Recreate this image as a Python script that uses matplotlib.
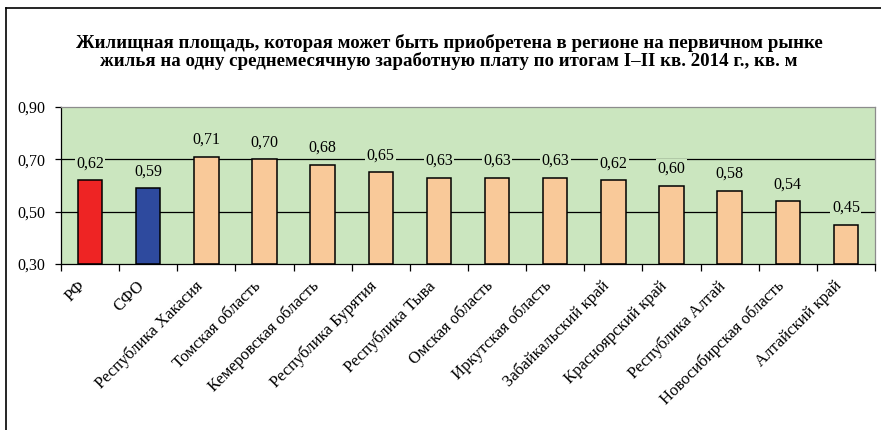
import matplotlib
matplotlib.use('Agg')
import matplotlib.pyplot as plt
import matplotlib.transforms as mtransforms
import numpy as np

regions = ['РФ', 'СФО', 'Республика Хакасия', 'Томская область', 'Кемеровская область',
           'Республика Бурятия', 'Республика Тыва', 'Омская область', 'Иркутская область',
           'Забайкальский край', 'Красноярский край', 'Республика Алтай',
           'Новосибирская область', 'Алтайский край']
values = [0.62, 0.59, 0.71, 0.70, 0.68, 0.65, 0.63, 0.63, 0.63, 0.62, 0.60, 0.58, 0.54, 0.45]
bar_colors = ['#ee2424', '#2e4a9e'] + ['#f9c999'] * 12
y_ticks = [0.30, 0.50, 0.70, 0.90]

title = ('Жилищная площадь, которая может быть приобретена в регионе на первичном рынке\n'
         'жилья на одну среднемесячную заработную плату по итогам I–II кв. 2014 г., кв. м')

plt.rcParams['font.family'] = ['Liberation Serif', 'DejaVu Serif']
plt.rcParams['hatch.linewidth'] = 0.4
plt.rcParams['hatch.color'] = '#b9d9aa'
bg = '#cbe6bf'

fig = plt.figure(figsize=(8.81, 4.30), dpi=100)
ax = fig.add_axes([61 / 881, 1 - 264 / 430, 814 / 881, 157 / 430])
ax.set_facecolor(bg)
# fine texture of the plot area
ax.add_patch(plt.Rectangle((0, 0), 1, 1, transform=ax.transAxes, facecolor='none',
                           edgecolor='none', hatch='+++++++', zorder=0))

x = np.arange(len(regions))
ax.set_xlim(-0.5, len(regions) - 0.5)
ax.set_ylim(0.3, 0.9)

for y in [0.5, 0.7]:
    ax.axhline(y, color='black', lw=0.9, zorder=1)

ax.bar(x, [v - 0.3 for v in values], bottom=0.3, width=0.42, color=bar_colors,
       edgecolor='black', lw=1.1, zorder=2)

for xi, v in zip(x, values):
    ax.text(xi, v + 0.034, f'{v:.2f}'.replace('.', ','), ha='center', va='bottom',
            fontsize=11.5, zorder=3,
            bbox=dict(facecolor=bg, edgecolor='none', pad=1.0))

ax.set_yticks(y_ticks)
ax.set_yticklabels([f'{t:.2f}'.replace('.', ',') for t in y_ticks], fontsize=11.5)
ax.tick_params(axis='y', direction='out', length=4, width=0.9, pad=7)

ax.set_xticks(np.arange(-0.5, len(regions)), minor=True)
ax.set_xticks(x)
ax.set_xticklabels(regions, rotation=45, ha='right', va='top', rotation_mode='anchor',
                   fontsize=12)
ax.tick_params(axis='x', which='major', length=0, pad=10)
ax.tick_params(axis='x', which='minor', direction='out', length=5, width=0.9)
shift = mtransforms.ScaledTranslation(-12 / 100, 0, fig.dpi_scale_trans)
for lbl in ax.get_xticklabels():
    lbl.set_transform(lbl.get_transform() + shift)

for side in ['top', 'right']:
    ax.spines[side].set_color('#8c8c8c')
    ax.spines[side].set_linewidth(0.9)
for side in ['left', 'bottom']:
    ax.spines[side].set_color('black')
    ax.spines[side].set_linewidth(0.9)

fig.text(449 / 881, 1 - 52 / 430, title, ha='center', va='center', fontsize=13.6,
         fontweight='bold', linespacing=1.05)

# outer frame (top and left edges visible in the source)
fig.add_artist(plt.Line2D([6 / 881, 1], [1 - 8 / 430, 1 - 8 / 430], color='black', lw=1.2,
                          transform=fig.transFigure))
fig.add_artist(plt.Line2D([6 / 881, 6 / 881], [0, 1 - 8 / 430], color='black', lw=1.2,
                          transform=fig.transFigure))

fig.savefig('out.png', dpi=100)
